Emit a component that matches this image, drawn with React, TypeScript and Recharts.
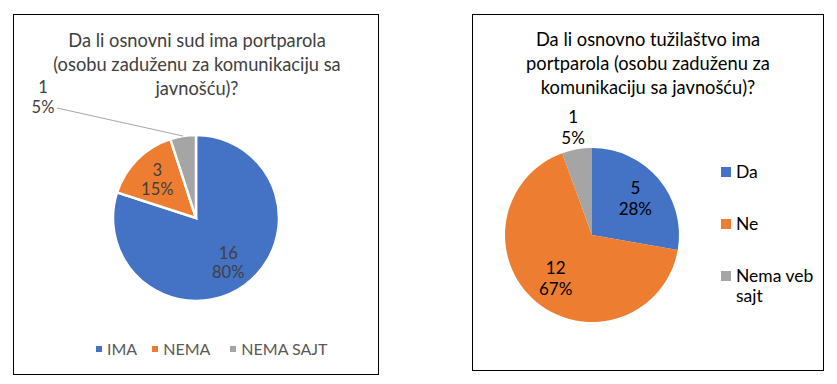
import { Cell, Legend, Pie, PieChart } from "recharts";

const sudNames = ["IMA", "NEMA", "NEMA SAJT"];
const sudCounts = [16, 3, 1];
const sudPercents = ["80%", "15%", "5%"];

const tuzNames = ["Da", "Ne", "Nema veb sajt"];
const tuzCounts = [5, 12, 1];
const tuzPercents = ["28%", "67%", "5%"];

const colors = ["#4472c4", "#ed7d31", "#a5a5a5"];

const sudData = sudNames.map((name, i) => ({ name, value: sudCounts[i] }));
const tuzData = tuzNames.map((name, i) => ({ name, value: tuzCounts[i] }));

const RADIAN = Math.PI / 180;
const FONT = "Lato, 'Open Sans', sans-serif";

function polar(cx: number, cy: number, r: number, angle: number) {
  return { x: cx + r * Math.cos(-angle * RADIAN), y: cy + r * Math.sin(-angle * RADIAN) };
}

function twoLine(x: number, y: number, a: string, b: string, fill: string, size: number, gap: number) {
  return (
    <text x={x} y={y} fill={fill} fontSize={size} fontFamily={FONT} textAnchor="middle">
      <tspan x={x} dy={-gap / 2 + size * 0.35}>{a}</tspan>
      <tspan x={x} dy={gap}>{b}</tspan>
    </text>
  );
}

function sudLabel(props: any) {
  const { cx, cy, midAngle, outerRadius, index, value } = props;
  const pct = sudPercents[index];
  if (index === 2) {
    const edge = polar(cx, cy, outerRadius, midAngle);
    const lx = edge.x - 140;
    const ly = edge.y - 39;
    return (
      <g>
        <polyline
          points={`${lx + 14},${ly + 11} ${edge.x},${edge.y}`}
          fill="none"
          stroke="#a6a6a6"
          strokeWidth={1}
        />
        {twoLine(lx, ly, String(value), pct, "#404040", 16.5, 20)}
      </g>
    );
  }
  const p = polar(cx, cy, outerRadius * 0.66, midAngle);
  return twoLine(p.x, p.y, String(value), pct, "#404040", 16.5, 19);
}

function tuzLabel(props: any) {
  const { cx, cy, midAngle, outerRadius, index, value } = props;
  const pct = tuzPercents[index];
  const f = index === 2 ? 1.25 : 0.65;
  const p = polar(cx, cy, outerRadius * f, midAngle);
  return twoLine(p.x, p.y, String(value), pct, "#000", 17, 21);
}

function SudLegend() {
  return (
    <div style={{ display: "flex", fontFamily: FONT, fontSize: 16, color: "#595959" }}>
      {sudNames.map((n, i) => (
        <div key={n} style={{ display: "flex", alignItems: "center", marginRight: i === 0 ? 15 : 20 }}>
          <span style={{ width: 6, height: 6, background: colors[i], marginRight: 5 }} />
          <span>{n}</span>
        </div>
      ))}
    </div>
  );
}

function TuzLegend() {
  return (
    <div style={{ fontFamily: FONT, fontSize: 17.5, color: "#000", width: 110 }}>
      {tuzNames.map((n, i) => (
        <div key={n} style={{ display: "flex", alignItems: "flex-start", marginBottom: 32, lineHeight: "20px" }}>
          <span style={{ width: 10, height: 10, background: colors[i], marginRight: 5, marginTop: 5, flexShrink: 0 }} />
          <span>{n === "Nema veb sajt" ? <>Nema veb<br />sajt</> : n}</span>
        </div>
      ))}
    </div>
  );
}

export default function App() {
  return (
    <div style={{ position: "absolute", left: 0, top: 0, width: 837, height: 384, background: "#fff" }}>
      <div style={{ position: "absolute", left: 13, top: 14, width: 366, height: 361, border: "1px solid #000", boxSizing: "border-box" }}>
        <div style={{ position: "absolute", left: 0, top: 13, width: 366, textAlign: "center", fontFamily: FONT, fontSize: 18.3, lineHeight: "24px", color: "#404040" }}>
          Da li osnovni sud ima portparola
          <br />
          (osobu zaduženu za komunikaciju sa
          <br />
          javnošću)?
        </div>
        <PieChart width={364} height={359} margin={{ top: 0, right: 0, bottom: 0, left: 0 }} style={{ position: "absolute", left: 0, top: 0 }}>
          <Pie
            data={sudData}
            dataKey="value"
            nameKey="name"
            cx={182}
            cy={203}
            outerRadius={83}
            startAngle={90}
            endAngle={-270}
            stroke="#fff"
            strokeWidth={2.5}
            label={sudLabel}
            labelLine={false}
            isAnimationActive={false}
          >
            {sudData.map((d, i) => (
              <Cell key={d.name} fill={colors[i]} />
            ))}
          </Pie>
          <Legend content={SudLegend} wrapperStyle={{ left: 82, top: 324, width: 270, bottom: "auto" }} />
        </PieChart>
      </div>
      <div style={{ position: "absolute", left: 472, top: 14, width: 352, height: 357, border: "1px solid #000", boxSizing: "border-box" }}>
        <div style={{ position: "absolute", left: 0, top: 12, width: 350, textAlign: "center", fontFamily: FONT, fontSize: 18.3, lineHeight: "24px", color: "#000" }}>
          Da li osnovno tužilaštvo ima
          <br />
          portparola (osobu zaduženu za
          <br />
          komunikaciju sa javnošću)?
        </div>
        <PieChart width={350} height={355} margin={{ top: 0, right: 0, bottom: 0, left: 0 }} style={{ position: "absolute", left: 0, top: 0 }}>
          <Pie
            data={tuzData}
            dataKey="value"
            nameKey="name"
            cx={119}
            cy={220}
            outerRadius={87}
            startAngle={90}
            endAngle={-270}
            stroke="none"
            label={tuzLabel}
            labelLine={false}
            isAnimationActive={false}
          >
            {tuzData.map((d, i) => (
              <Cell key={d.name} fill={colors[i]} />
            ))}
          </Pie>
          <Legend content={TuzLegend} wrapperStyle={{ left: 248, top: 147, width: 110, bottom: "auto" }} />
        </PieChart>
      </div>
    </div>
  );
}
